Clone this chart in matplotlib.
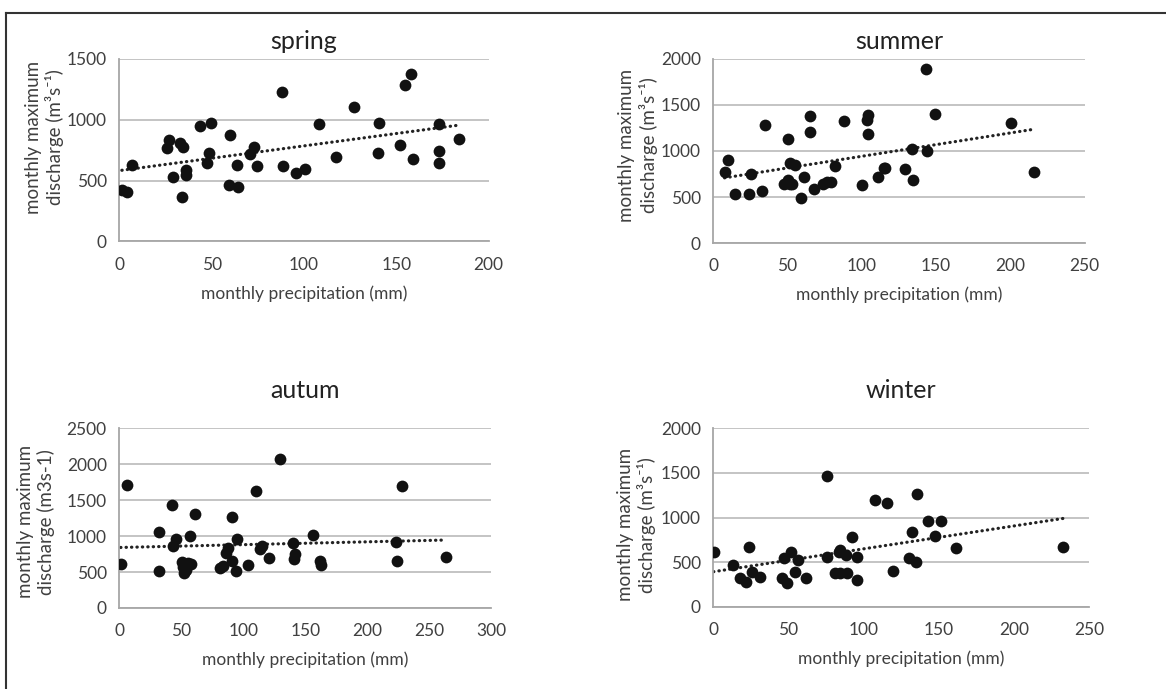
import numpy as np
import matplotlib.pyplot as plt
from matplotlib.lines import Line2D

plt.rcParams['font.family'] = ['Lato', 'DejaVu Sans']

# === datos ===
spring_x = [1.4, 4, 6.9, 25.8, 26.7, 28.9, 32.9, 34.7, 33.8, 35.9, 35.9, 43.7, 49.6, 48.7, 47.7,
            59.7, 59.6, 64.1, 63.9, 70.8, 72.9, 74.7, 87.9, 88.8, 95.8, 100.7, 107.9, 117.1,
            127.1, 140.6, 139.9, 152, 154.9, 157.9, 158.8, 173.3, 173.3, 173.1, 184.1]
spring_y = [422, 406, 631, 770, 834, 532, 812, 779, 362, 587, 546, 949, 971, 724, 647,
            875, 461, 447, 631, 721, 776, 622, 1226, 620, 562, 595, 968, 694,
            1108, 976, 729, 790, 1283, 1379, 675, 968, 743, 642, 839]

summer_x = [7.6, 10.1, 14.8, 23.8, 25.1, 33, 34.8, 47.6, 50, 50, 51.8, 51.4, 55, 53,
            58.8, 60.8, 65.1, 65.1, 67.5, 73.8, 76.7, 79.4, 82.1, 88.2, 100.3, 103.5,
            103.9, 103.9, 110.6, 115.6, 114.7, 128.8, 134, 134.2, 143, 144.1, 149, 200.2, 216.1]
summer_y = [775, 906, 529, 529, 746, 569, 1279, 645, 1127, 681, 873, 638, 844, 638,
            493, 714, 1380, 1206, 587, 645, 659, 659, 841, 1330, 630, 1333,
            1388, 1185, 714, 819, 819, 808, 1022, 681, 1888, 1000, 1398, 1308, 768]

autum_x = [1.1, 5.9, 31.7, 31.7, 42.7, 43.5, 45.7, 50.3, 51.1, 52.4, 53.5, 55.1, 56.7, 57.8,
           60.8, 81.2, 83.9, 86, 87.9, 90.6, 91.1, 93.8, 94.6, 104, 110.5, 113.4, 115.1,
           120.4, 129.6, 139.8, 140.9, 141.4, 156.5, 161.8, 162.6, 222.8, 224.2, 228, 263.7]
autum_y = [608, 1716, 1057, 519, 1438, 867, 955, 645, 575, 482, 529, 621, 1002, 612,
           1308, 552, 584, 770, 835, 1271, 654, 515, 955, 594, 1628, 816, 863,
           700, 2073, 909, 677, 756, 1016, 659, 594, 923, 654, 1702, 714]

winter_x = [0.2, 13.1, 17.5, 22, 23.7, 26, 31.1, 45.9, 46.8, 49, 51.9, 54.6, 56.6, 61.9,
            75.9, 75.9, 81.2, 83.6, 84.5, 84.1, 88.5, 89, 92.5, 95.8, 95.8, 107.6, 115.6,
            119.6, 130.2, 132.4, 134.6, 135.5, 142.9, 147.3, 151.5, 161.7, 232.7]
winter_y = [613, 467, 325, 277, 665, 385, 336, 325, 542, 262, 613, 389, 523, 325,
            1462, 561, 374, 613, 635, 374, 579, 381, 785, 561, 303, 1192, 1163,
            404, 542, 841, 505, 1260, 957, 796, 961, 654, 665]

titulos = ['spring', 'summer', 'autum', 'winter']
ylabels = ['monthly maximum\ndischarge (m³s⁻¹)', 'monthly maximum\ndischarge (m³s⁻¹)',
           'monthly maximum\ndischarge (m3s-1)', 'monthly maximum\ndischarge (m³s⁻¹)']
xmax = [200, 250, 300, 250]
ymax = [1500, 2000, 2500, 2000]
paso = 50
ypaso = 500

datos = [(spring_x, spring_y), (summer_x, summer_y), (autum_x, autum_y), (winter_x, winter_y)]

# posiciones de los ejes (fraccion de figura)
posiciones = [[0.1023, 0.6498, 0.3168, 0.2646],
              [0.6117, 0.6473, 0.3185, 0.2671],
              [0.1023, 0.1176, 0.3191, 0.2608],
              [0.6117, 0.1194, 0.3222, 0.2590]]
ylab_pos = [(-0.15, 0.57), (-0.15, 0.53), (-0.172, 0.48), (-0.152, 0.46)]
titulo_pad = [7, 7, 22, 22]

gris = '#404040'
fig = plt.figure(figsize=(11.66, 6.89), dpi=100)

for i in range(4):
    ax = fig.add_axes(posiciones[i])
    x = np.array(datos[i][0])
    y = np.array(datos[i][1])
    ax.scatter(x, y, s=72, color='#111111', zorder=3, linewidths=0)

    # linea de tendencia lineal
    m, b = np.polyfit(x, y, 1)
    xt = np.array([x.min(), x.max()])
    ax.plot(xt, m * xt + b, color='#222222', linewidth=2.3,
            linestyle=(0, (0.1, 1.6)), zorder=2, dash_capstyle='round')

    ax.set_xlim(0, xmax[i])
    ax.set_ylim(0, ymax[i])
    ax.set_xticks(np.arange(0, xmax[i] + 1, paso))
    ax.set_yticks(np.arange(0, ymax[i] + 1, ypaso))
    ax.grid(axis='y', color='#bfbfbf', linewidth=1.3)
    ax.set_axisbelow(True)
    for lado in ['top', 'right']:
        ax.spines[lado].set_visible(False)
    for lado in ['left', 'bottom']:
        ax.spines[lado].set_color('#a6a6a6')
        ax.spines[lado].set_linewidth(1.3)
    ax.tick_params(length=0, labelsize=12.5, labelcolor=gris, pad=11)
    ax.tick_params(axis='y', pad=9)

    ax.set_xlabel('monthly precipitation (mm)', fontsize=12.5, color=gris, labelpad=9)
    ax.set_ylabel(ylabels[i], fontsize=13.5, color=gris, linespacing=1.2)
    ax.yaxis.set_label_coords(*ylab_pos[i])
    ax.set_title(titulos[i], fontsize=18, color='#222222', pad=titulo_pad[i])

# marco exterior (solo arriba e izquierda)
fig.add_artist(Line2D([0.005, 1.0], [0.981, 0.981], color='#333333', linewidth=1.5))
fig.add_artist(Line2D([0.005, 0.005], [0.0, 0.981], color='#333333', linewidth=1.5))

plt.savefig('out.png', dpi=100)
